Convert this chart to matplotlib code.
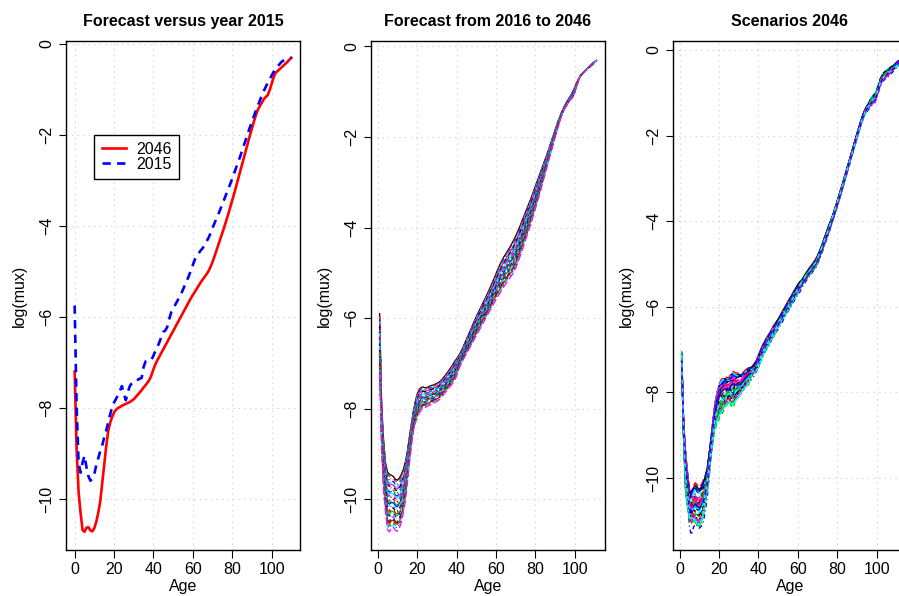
import numpy as np
import matplotlib
matplotlib.use("Agg")
import matplotlib.pyplot as plt

plt.rcParams['font.family'] = ['Liberation Sans', 'DejaVu Sans']
plt.rcParams['lines.scale_dashes'] = False

ages = np.arange(0, 111)

# observed log death rates, 2015
lm2015 = [-5.75, -8.0, -9.2, -9.42, -9.2, -9.05, -9.3, -9.5, -9.6, -9.55,
          -9.45, -9.25, -9.1, -8.95, -8.82, -8.65, -8.5, -8.32, -8.15, -7.98,
          -7.88, -7.8, -7.72, -7.62, -7.52, -7.7, -7.83, -7.65, -7.52, -7.46,
          -7.42, -7.38, -7.38, -7.36, -7.34, -7.1, -6.98, -6.98, -6.96, -6.94,
          -6.85, -6.75, -6.66, -6.56, -6.44, -6.33, -6.3, -6.22, -6.05, -5.9,
          -5.82, -5.74, -5.66, -5.58, -5.5, -5.4, -5.3, -5.2, -5.1, -4.98,
          -4.86, -4.74, -4.66, -4.6, -4.54, -4.49, -4.42, -4.34, -4.26, -4.16,
          -4.05, -3.94, -3.84, -3.74, -3.63, -3.52, -3.41, -3.3, -3.19, -3.08,
          -2.96, -2.84, -2.72, -2.6, -2.48, -2.35, -2.22, -2.09, -1.96, -1.83,
          -1.71, -1.59, -1.47, -1.36, -1.25, -1.14, -1.04, -0.95, -0.86, -0.78,
          -0.7, -0.62, -0.56, -0.5, -0.45, -0.4, -0.37, -0.35, -0.33, -0.32, -0.31]

# first forecast year (top of the fan)
lm2016 = [-5.9, -7.9, -8.7, -9.2, -9.4, -9.45, -9.47, -9.5, -9.56, -9.58,
          -9.53, -9.45, -9.34, -9.18, -8.95, -8.65, -8.35, -8.08, -7.85, -7.68,
          -7.58, -7.53, -7.52, -7.54, -7.53, -7.51, -7.49, -7.48, -7.46, -7.44,
          -7.42, -7.38, -7.33, -7.28, -7.22, -7.16, -7.1, -7.03, -6.96, -6.9,
          -6.84, -6.76, -6.67, -6.57, -6.47, -6.37, -6.27, -6.17, -6.07, -5.97,
          -5.88, -5.79, -5.7, -5.61, -5.52, -5.43, -5.33, -5.23, -5.13, -5.02,
          -4.92, -4.82, -4.73, -4.65, -4.58, -4.51, -4.44, -4.36, -4.28, -4.19,
          -4.09, -3.99, -3.88, -3.77, -3.66, -3.55, -3.44, -3.33, -3.21, -3.09,
          -2.97, -2.85, -2.73, -2.61, -2.49, -2.37, -2.24, -2.11, -1.98, -1.85,
          -1.72, -1.6, -1.49, -1.39, -1.3, -1.22, -1.15, -1.08, -1.0, -0.9,
          -0.8, -0.72, -0.65, -0.6, -0.55, -0.5, -0.46, -0.42, -0.38, -0.34, -0.31]

# last forecast year
lm2046 = [-7.2, -8.9, -9.85, -10.3, -10.68, -10.72, -10.63, -10.62, -10.69, -10.71,
          -10.64, -10.5, -10.3, -10.05, -9.65, -9.25, -8.85, -8.52, -8.33, -8.2,
          -8.1, -8.04, -8.0, -7.98, -7.95, -7.93, -7.91, -7.89, -7.87, -7.84,
          -7.81, -7.76, -7.71, -7.66, -7.61, -7.55, -7.5, -7.44, -7.38, -7.28,
          -7.15, -7.04, -6.95, -6.87, -6.79, -6.71, -6.63, -6.55, -6.47, -6.39,
          -6.31, -6.23, -6.15, -6.07, -5.99, -5.91, -5.83, -5.75, -5.67, -5.59,
          -5.52, -5.45, -5.38, -5.31, -5.24, -5.18, -5.12, -5.06, -4.99, -4.9,
          -4.79, -4.67, -4.54, -4.41, -4.28, -4.15, -4.02, -3.88, -3.74, -3.59,
          -3.44, -3.29, -3.13, -2.97, -2.81, -2.65, -2.49, -2.33, -2.17, -2.01,
          -1.86, -1.71, -1.57, -1.45, -1.37, -1.3, -1.22, -1.17, -1.13, -1.02,
          -0.88, -0.74, -0.64, -0.6, -0.56, -0.52, -0.48, -0.44, -0.4, -0.35, -0.31]

# period index of the forecast years (0 = first year, 1 = 2046)
kt = [0.0, 0.036, 0.07, 0.103, 0.139, 0.172, 0.207, 0.241, 0.276, 0.31,
      0.343, 0.379, 0.413, 0.448, 0.482, 0.517, 0.551, 0.586, 0.62, 0.655,
      0.689, 0.724, 0.758, 0.793, 0.828, 0.862, 0.897, 0.931, 0.966, 1.0]

# spread of the 2046 scenarios by age
sd_age = ([0.12, 0.15, 0.25, 0.35, 0.45] + [0.5] * 7 +
          [0.42, 0.34, 0.27, 0.22, 0.2, 0.22, 0.26, 0.29, 0.3] + [0.3] * 8 +
          [0.28, 0.25, 0.22, 0.2, 0.18, 0.16, 0.15] + [0.14] * 10 +
          [0.12] * 15 + [0.09] * 15 + [0.06] * 35)

# scenario loadings
sc_a = [0.8, -0.5, 0.2, -0.9, 0.6, -0.1, 0.4, -0.7,
        0.0, 0.9, -0.3, 0.5, -0.8, 0.1, -0.2, 0.7,
        -0.6, 0.3, -0.4, 1.0, -1.0, 0.15, -0.15, 0.55,
        -0.55, 0.35, -0.85, 0.65, -0.45, 0.05, 0.75, -0.65,
        0.25, -0.25, 0.85, -0.75, 0.45, -0.35, -0.05, 0.95,
        -0.95, 0.3, -0.6, 0.6, -0.2, 0.1, -0.4, 0.5]
sc_b = [-0.3, 0.5, 0.1, -0.4, 0.6, -0.6, 0.2, 0.4,
        -0.5, 0.0, 0.3, -0.2, 0.5, -0.1, 0.6, -0.4,
        0.1, -0.6, 0.4, -0.3, 0.2, 0.5, -0.5, 0.0,
        0.3, -0.1, 0.6, -0.2, 0.4, -0.6, 0.1, 0.5,
        -0.3, 0.2, -0.4, 0.0, 0.6, -0.5, 0.3, -0.1,
        0.4, -0.6, 0.2, -0.2, 0.5, -0.3, 0.1, -0.4]
sc_c = [0.05, -0.08, 0.1, 0.0, -0.05, 0.08, -0.1, 0.03,
        0.06, -0.04, 0.09, -0.07, 0.02, 0.1, -0.09, 0.04,
        -0.02, 0.07, -0.06, 0.01, 0.08, -0.1, 0.05, -0.03,
        0.1, -0.08, 0.0, 0.06, -0.05, 0.09, -0.01, 0.03,
        -0.07, 0.1, -0.04, 0.07, -0.09, 0.02, 0.05, -0.06,
        0.08, -0.02, 0.04, -0.1, 0.06, -0.03, 0.09, -0.08]

lm2015 = np.array(lm2015)
lm2016 = np.array(lm2016)
lm2046 = np.array(lm2046)
sd_age = np.array(sd_age)

# Lee-Carter style pieces
ax_ = lm2016
bx = lm2046 - lm2016
wig = lm2015 - lm2016

# R matplot defaults
cols = ['black', '#FF0000', '#00CD00', '#0000FF', '#00FFFF', '#FF00FF']
ltys = ['-', (0, (3, 3)), (0, (0.75, 2.25)), (0, (0.75, 2.25, 3, 2.25)), (0, (5.25, 2.25))]


def style(ax, xlim, ylim, title):
    ax.set_xlim(xlim)
    ax.set_ylim(ylim)
    ax.set_xticks([0, 20, 40, 60, 80, 100])
    ax.set_yticks([0, -2, -4, -6, -8, -10])
    ax.grid(True, color='#D3D3D3', linestyle=(0, (1, 3)), linewidth=0.8)
    ax.set_axisbelow(True)
    ax.tick_params(direction='out', length=5.4, width=0.8, labelsize=11.5, pad=3)
    ax.tick_params(axis='y', labelrotation=90)
    for lab in ax.get_yticklabels():
        lab.set_va('center')
    for s in ax.spines.values():
        s.set_linewidth(1.0)
    ax.set_title(title, fontsize=11.5, fontweight='bold', pad=11)
    ax.set_xlabel('Age', fontsize=11.5, labelpad=1.5)
    ax.set_ylabel('log(mux)', fontsize=11.5, labelpad=9)


fig = plt.figure(figsize=(8.99, 5.96), dpi=100)
bot, hgt, wid = 0.0772, 0.854, 0.2603

# panel 1
ax1 = fig.add_axes([0.0734, bot, wid, hgt])
ax1.plot(ages, lm2046, color='#FF0000', lw=1.9, label='2046')
ax1.plot(ages, lm2015, color='#0000FF', lw=1.9, ls=(0, (6, 4.5)), label='2015')
style(ax1, (-4.4, 114.4), (-11.12, 0.06), 'Forecast versus year 2015')
ax1.legend(loc='upper left', bbox_to_anchor=(10, -2), bbox_transform=ax1.transData,
           borderaxespad=0, borderpad=0.45, handlelength=1.55, handletextpad=0.6,
           labelspacing=0.0, fontsize=11.5, fancybox=False, framealpha=1,
           edgecolor='black').get_frame().set_linewidth(1.0)

# panel 2 (plotted against column index like matplot)
idx = ages + 1
ax2 = fig.add_axes([0.4127, bot, wid, hgt])
for i, k in enumerate(kt):
    ax2.plot(idx, ax_ + bx * k, color=cols[i % 6], ls=ltys[i % 5], lw=0.9)
style(ax2, (-3.4, 115.4), (-11.12, 0.12), 'Forecast from 2016 to 2046')

# panel 3
ax3 = fig.add_axes([0.7486, bot, wid, hgt])
for i, (a, b, c) in enumerate(zip(sc_a, sc_b, sc_c)):
    ax3.plot(idx, lm2046 + a * sd_age + b * wig - c * bx,
             color=cols[i % 6], ls=ltys[i % 5], lw=1.0)
style(ax3, (-3.4, 115.4), (-11.68, 0.21), 'Scenarios 2046')

fig.savefig('out.png', dpi=100)
